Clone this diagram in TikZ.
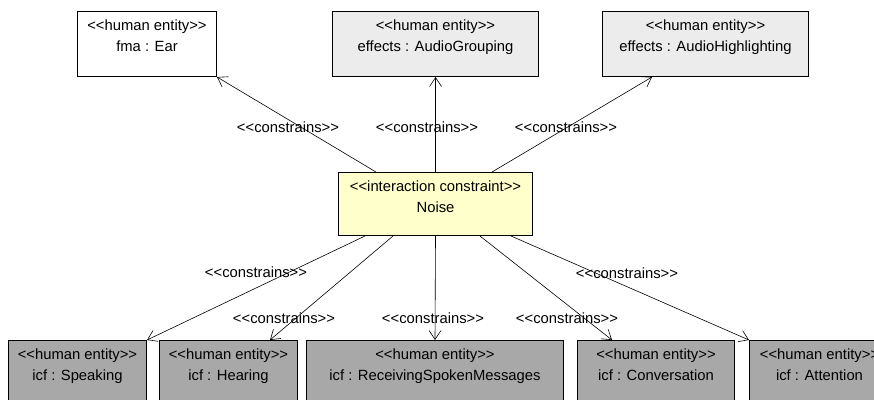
\documentclass[tikz,border=0pt]{standalone}
\usepackage{fontspec}
\setmainfont{Liberation Sans}[Ligatures=TeXOff]
\usetikzlibrary{arrows.meta}
\definecolor{lightbox}{RGB}{236,236,236}
\definecolor{darkbox}{RGB}{168,168,168}
\definecolor{noisebox}{RGB}{255,255,204}
\tikzset{
  entity/.style={draw, line width=1pt, anchor=north west, align=center,
    inner xsep=0pt, inner ysep=4pt, text height=36pt, text depth=21pt,
    font=\fontsize{14.8}{21.5}\selectfont},
  constrains/.style={-{Straight Barb[length=9pt,width=12pt]}, line width=0.6pt},
  stereo/.style={font=\fontsize{14.8}{18}\selectfont, inner sep=0pt}
}

\begin{document}
\begin{tikzpicture}[x=1pt,y=-1pt]
  \clip (0,0) rectangle (874,399);

  \node[entity, minimum width=139pt, fill=white] at (77,11) (ear) {<<human entity>>\\fma : Ear};
  \node[entity, minimum width=206pt, fill=lightbox] at (332,11) (group) {<<human entity>>\\effects : AudioGrouping};
  \node[entity, minimum width=206pt, fill=lightbox] at (602,11) (highl) {<<human entity>>\\effects : AudioHighlighting};

  \node[entity, minimum width=194pt, fill=noisebox, text depth=19pt] at (338,172) (noise) {<<interaction constraint>>\\Noise};

  \node[entity, minimum width=138pt, fill=darkbox, text depth=26pt] at (8,340) (speak) {<<human entity>>\\icf : Speaking};
  \node[entity, minimum width=138pt, fill=darkbox, text depth=26pt] at (159,340) (hear) {<<human entity>>\\icf : Hearing};
  \node[entity, minimum width=257pt, fill=darkbox, text depth=26pt] at (306,340) (recv) {<<human entity>>\\icf : ReceivingSpokenMessages};
  \node[entity, minimum width=157pt, fill=darkbox, text depth=26pt] at (577,340) (conv) {<<human entity>>\\icf : Conversation};
  \node[entity, minimum width=140pt, fill=darkbox, text depth=26pt] at (749,340) (att) {<<human entity>>\\icf : Attention};

  \draw[constrains] ([xshift=38pt]noise.north west) -- (ear.south east);
  \draw[constrains] (noise.north) -- (group.south);
  \draw[constrains] ([xshift=-41pt]noise.north east) -- ([xshift=50pt]highl.south west);

  \draw[constrains] ([xshift=27pt]noise.south west) -- (speak.north east);
  \draw[constrains] ([xshift=55pt]noise.south west) -- ([xshift=-28pt]hear.north east);
  \draw[constrains] (noise.south) -- (recv.north);
  \draw[constrains] ([xshift=-53pt]noise.south east) -- ([xshift=35pt]conv.north west);
  \draw[constrains] ([xshift=-22pt]noise.south east) -- (att.north west);

  \node[stereo] at (288,127) (cear) {<<constrains>>};
  \node[stereo] at (427,127) (cgroup) {<<constrains>>};
  \node[stereo] at (566,127) (chighl) {<<constrains>>};
  \node[stereo] at (256,272) (cspeak) {<<constrains>>};
  \node[stereo] at (284,318) (chear) {<<constrains>>};
  \node[stereo] at (433,318) (crecv) {<<constrains>>};
  \node[stereo] at (567,318) (cconv) {<<constrains>>};
  \node[stereo] at (627,273) (catt) {<<constrains>>};
\end{tikzpicture}
\end{document}
